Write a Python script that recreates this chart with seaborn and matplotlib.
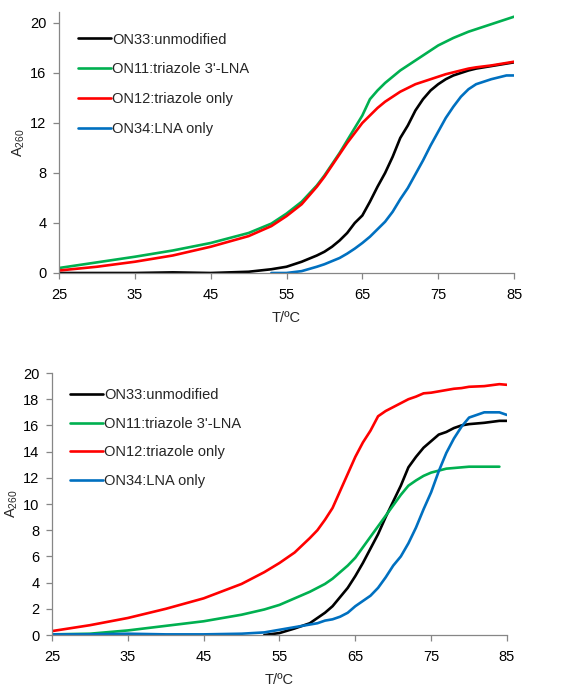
import numpy as np
import pandas as pd
import matplotlib
matplotlib.use("Agg")
import matplotlib.pyplot as plt
import seaborn as sns

nan = np.nan

# temperature grid (degC)
T = [25, 30, 35, 40, 45, 50, 53, 55, 57, 59, 60, 61, 62, 63, 64, 65, 66, 67,
     68, 69, 70, 71, 72, 73, 74, 75, 76, 77, 78, 79, 80, 82, 84, 85]

series = ["ON33:unmodified", "ON11:triazole 3'-LNA", "ON12:triazole only", "ON34:LNA only"]
colors = ["#000000", "#00B050", "#FF0000", "#0070C0"]

# upper panel
black_top = [0, 0, 0, 0.05, 0, 0.1, 0.3, 0.5, 0.9, 1.4, 1.7, 2.1, 2.6, 3.2, 4.0, 4.6, 5.7, 6.9,
             8.0, 9.3, 10.8, 11.8, 13.0, 13.9, 14.6, 15.1, 15.5, 15.8, 16.0, 16.2, 16.35, 16.55, 16.75, 16.85]
green_top = [0.4, 0.85, 1.3, 1.8, 2.4, 3.2, 3.95, 4.75, 5.7, 7.0, 7.8, 8.7, 9.6, 10.6, 11.6, 12.6, 13.9, 14.6,
             15.2, 15.7, 16.2, 16.6, 17.0, 17.4, 17.8, 18.2, 18.5, 18.8, 19.05, 19.3, 19.5, 19.9, 20.3, 20.5]
red_top = [0.2, 0.5, 0.9, 1.4, 2.1, 2.95, 3.75, 4.55, 5.5, 6.9, 7.7, 8.6, 9.5, 10.4, 11.2, 12.0, 12.6, 13.2,
           13.7, 14.1, 14.5, 14.8, 15.1, 15.3, 15.5, 15.7, 15.9, 16.05, 16.2, 16.35, 16.45, 16.6, 16.8, 16.9]
blue_top = [nan, nan, nan, nan, nan, nan, 0, 0, 0.15, 0.5, 0.7, 0.95, 1.2, 1.55, 1.95, 2.4, 2.9, 3.5,
            4.1, 4.9, 5.9, 6.8, 7.9, 9.0, 10.2, 11.3, 12.4, 13.3, 14.1, 14.7, 15.1, 15.5, 15.8, 15.8]

# lower panel
black_bot = [nan, nan, nan, nan, nan, nan, 0, 0.15, 0.5, 0.9, 1.3, 1.7, 2.2, 2.9, 3.6, 4.5, 5.5, 6.6,
             7.7, 9.0, 10.2, 11.4, 12.8, 13.6, 14.3, 14.8, 15.3, 15.5, 15.8, 16.0, 16.1, 16.2, 16.35, 16.35]
green_bot = [0.05, 0.1, 0.35, 0.7, 1.05, 1.55, 1.95, 2.3, 2.8, 3.3, 3.6, 3.9, 4.3, 4.8, 5.3, 5.9, 6.7, 7.5,
             8.3, 9.1, 9.9, 10.7, 11.4, 11.8, 12.15, 12.4, 12.55, 12.7, 12.75, 12.8, 12.85, 12.85, 12.85, nan]
red_bot = [0.3, 0.75, 1.3, 2.0, 2.8, 3.9, 4.8, 5.5, 6.3, 7.4, 8.0, 8.8, 9.7, 11.0, 12.3, 13.6, 14.7, 15.6,
           16.7, 17.1, 17.4, 17.7, 18.0, 18.2, 18.45, 18.5, 18.6, 18.7, 18.8, 18.85, 18.95, 19.0, 19.15, 19.1]
blue_bot = [0.05, 0.05, 0.1, 0.05, 0.05, 0.1, 0.2, 0.4, 0.6, 0.8, 0.9, 1.1, 1.2, 1.4, 1.7, 2.2, 2.6, 3.0,
            3.6, 4.4, 5.3, 6.0, 7.0, 8.2, 9.6, 10.9, 12.5, 13.9, 15.0, 15.9, 16.6, 17.0, 17.0, 16.8]

sns.set_style("ticks")
plt.rcParams["font.family"] = ["Liberation Sans", "DejaVu Sans"]
plt.rcParams["font.size"] = 10.5
plt.rcParams["mathtext.fontset"] = "custom"
plt.rcParams["mathtext.rm"] = "Liberation Sans"

def make_df(cols):
    df = pd.DataFrame({"T": T})
    for name, vals in zip(series, cols):
        df[name] = vals
    return df.melt(id_vars="T", var_name="series", value_name="A").dropna()

fig = plt.figure(figsize=(5.62, 6.88), dpi=100)
ax1 = fig.add_axes([0.105, 0.6032, 0.8096, 0.3798])
ax2 = fig.add_axes([0.0925, 0.0770, 0.8096, 0.3808])

panels = [
    (ax1, make_df([black_top, green_top, red_top, blue_top]), 20.9, 4, -32, (0.041, 0.92), 1.09),
    (ax2, make_df([black_bot, green_bot, red_bot, blue_bot]), 20, 2, -32, (0.039, 0.941), 0.99),
]

gray = "#868686"
for ax, df, ymax, ystep, ylab_x, anchor, lspace in panels:
    sns.lineplot(data=df, x="T", y="A", hue="series", hue_order=series,
                 palette=colors, linewidth=1.9, ax=ax)
    ax.set_xlim(25, 85)
    ax.set_ylim(0, ymax)
    ax.set_xticks(np.arange(25, 86, 10))
    ax.set_yticks(np.arange(0, 21, ystep))
    for s in ["top", "right"]:
        ax.spines[s].set_visible(False)
    for s in ["left", "bottom"]:
        ax.spines[s].set_color(gray)
        ax.spines[s].set_linewidth(0.9)
    ax.tick_params(axis="both", colors=gray, labelcolor="black", length=4, width=0.9, labelsize=10.5)
    ax.tick_params(axis="x", pad=7)
    ax.tick_params(axis="y", pad=5)
    ax.set_xlabel("T/ºC", fontsize=10.5)
    ax.set_ylabel("A$_{260}$", fontsize=10.5)
    ax.xaxis.set_label_coords(0.5, -38 / 262)
    ax.yaxis.set_label_coords(ylab_x / 455, 0.5)
    ax.legend(loc="upper left", bbox_to_anchor=anchor, frameon=False, fontsize=10.5,
              handlelength=2.3, handletextpad=0.05, labelspacing=lspace, borderpad=0,
              borderaxespad=0)

fig.savefig("out.png", dpi=100)
